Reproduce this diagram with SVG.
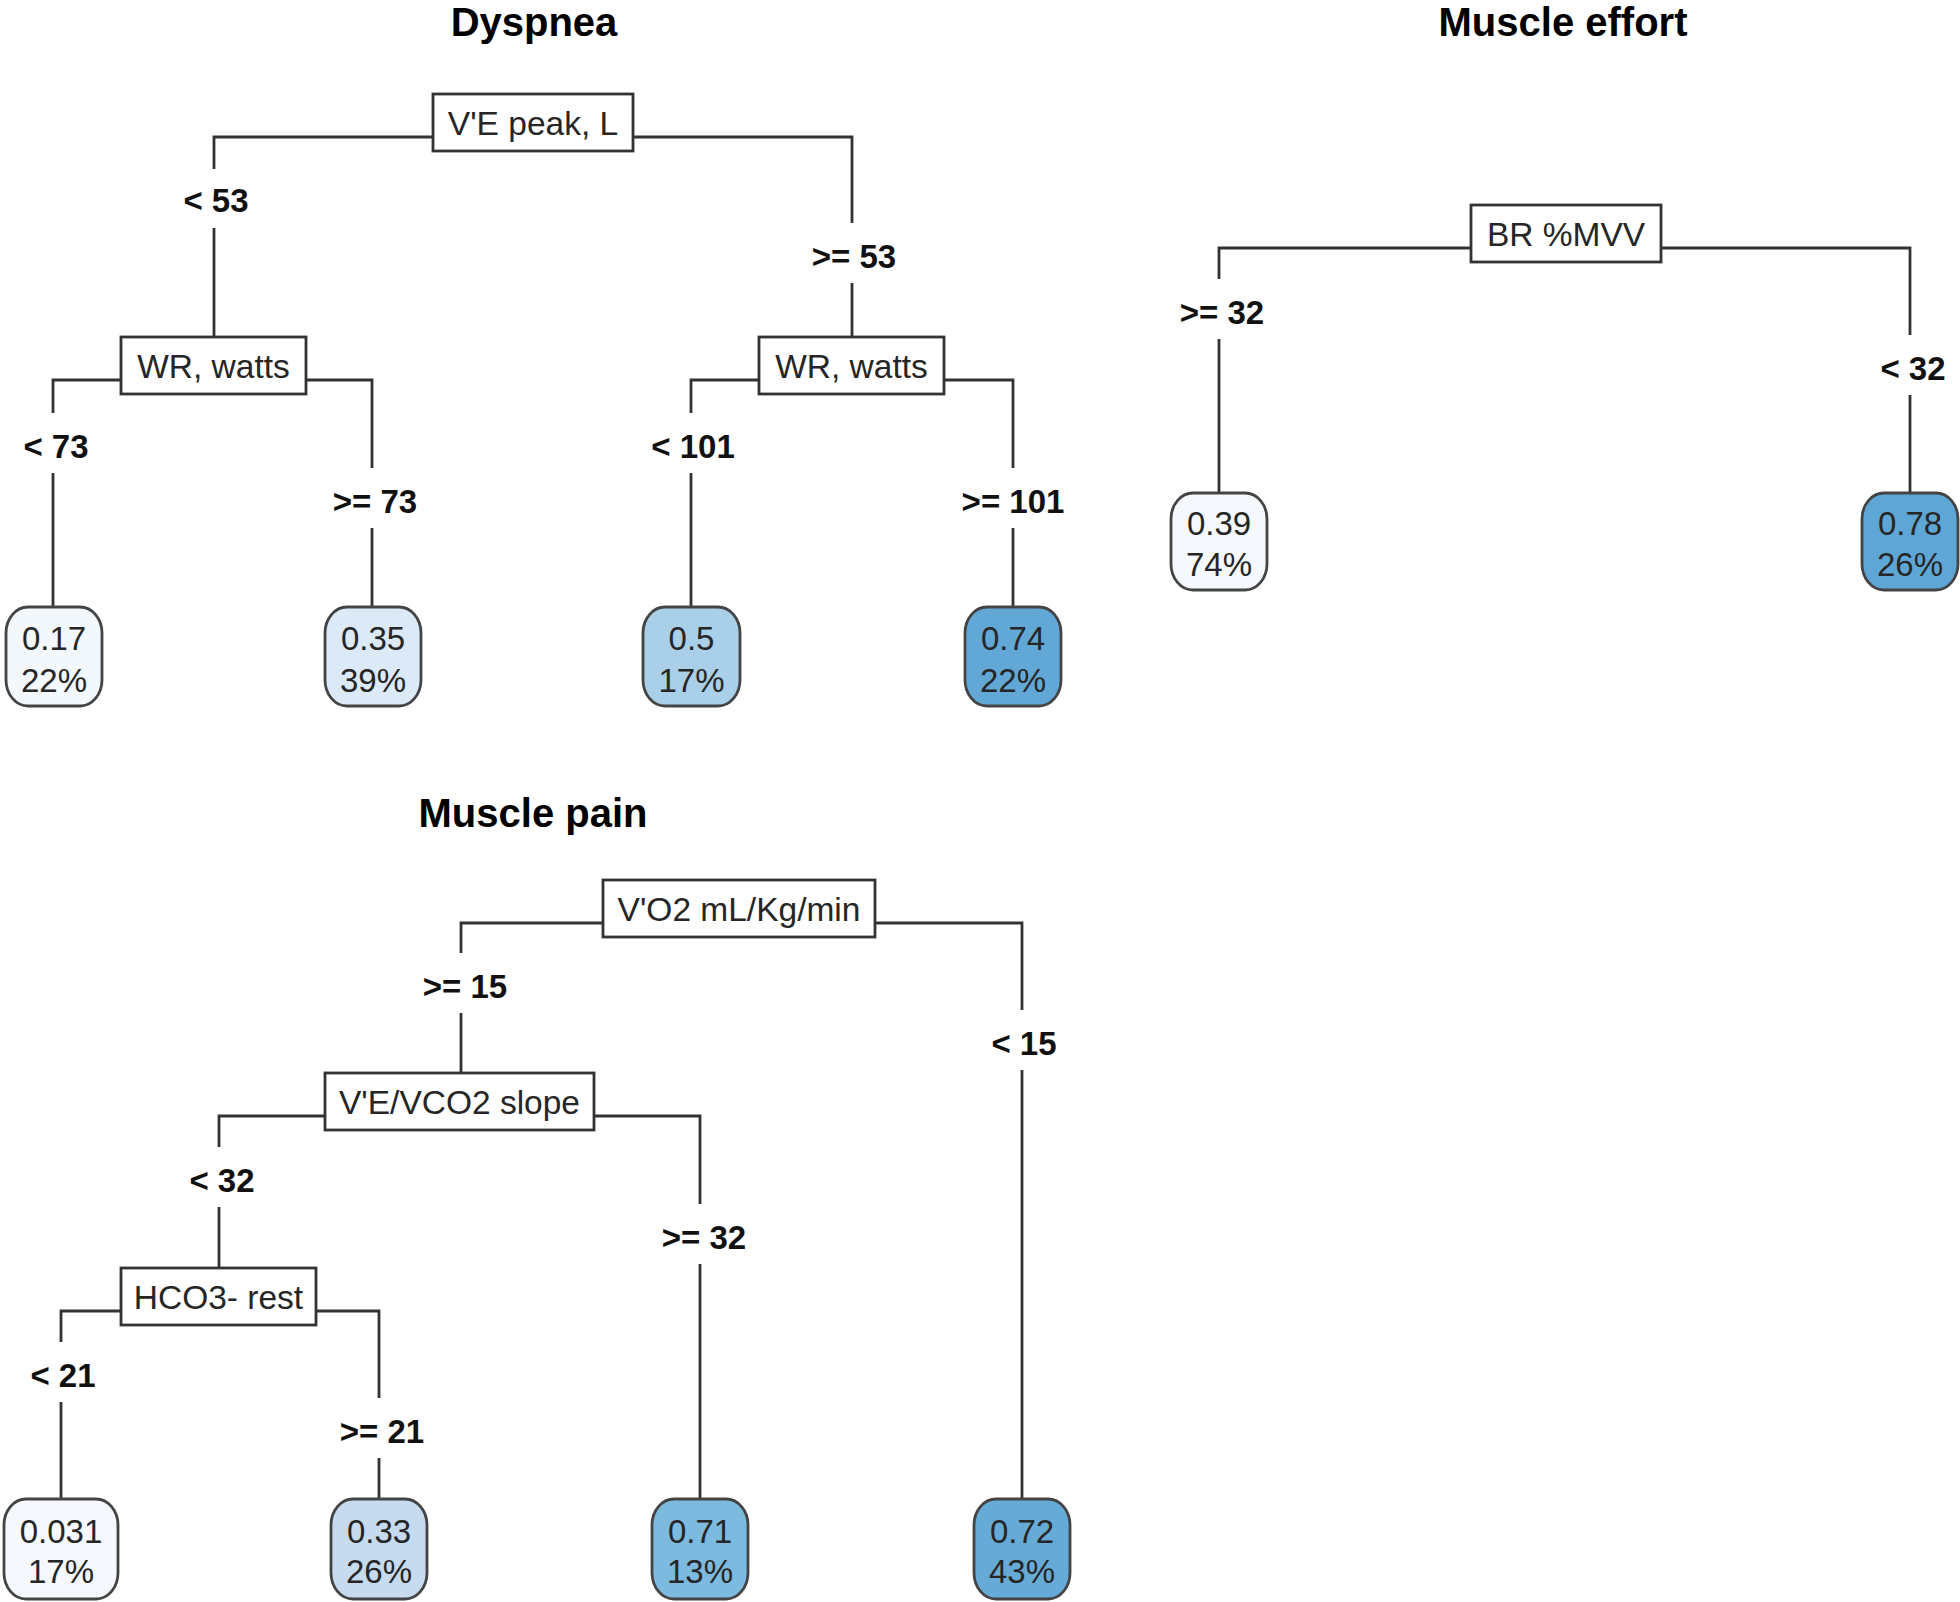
<svg xmlns="http://www.w3.org/2000/svg" width="1960" height="1602" viewBox="0 0 1960 1602">
<style>
.title{font-family:"Liberation Sans",Arial,sans-serif;font-weight:bold;font-size:40px;fill:#000;text-anchor:middle}
.nt{font-family:"Liberation Sans",Arial,sans-serif;font-size:33.5px;fill:#262626;text-anchor:middle}
.lt{font-family:"Liberation Sans",Arial,sans-serif;font-size:33px;fill:#262626;text-anchor:middle}
.sl{font-family:"Liberation Sans",Arial,sans-serif;font-weight:bold;font-size:33px;fill:#111;text-anchor:middle}
.box{fill:#fff;stroke:#333;stroke-width:2.8}
.leaf{stroke:#444;stroke-width:2.8}
.edges path{fill:none;stroke:#333;stroke-width:2.8}
</style>
<rect width="1960" height="1602" fill="#fff"/>

<text class="title" x="534" y="36">Dyspnea</text>
<text class="title" x="1563" y="36">Muscle effort</text>
<text class="title" x="533" y="827">Muscle pain</text>

<g class="edges" id="connectors">
<!-- Dyspnea -->
<path d="M433 137 H214 V169 M214 228 V337"/>
<path d="M633 137 H852 V223 M852 283 V337"/>
<path d="M121 380 H53 V413 M53 473 V607"/>
<path d="M306 380 H372 V468 M372 528 V607"/>
<path d="M759 380 H691 V413 M691 473 V607"/>
<path d="M944 380 H1013 V468 M1013 528 V607"/>
<!-- Muscle effort -->
<path d="M1471 248 H1219 V279 M1219 339 V493"/>
<path d="M1661 248 H1910 V335 M1910 395 V493"/>
<!-- Muscle pain -->
<path d="M603 923 H461 V953 M461 1013 V1073"/>
<path d="M875 923 H1022 V1010 M1022 1070 V1499"/>
<path d="M325 1116 H219 V1147 M219 1207 V1268"/>
<path d="M594 1116 H700 V1204 M700 1264 V1499"/>
<path d="M121 1311 H61 V1342 M61 1402 V1499"/>
<path d="M316 1311 H379 V1398 M379 1458 V1499"/>
</g>

<g id="edge-labels">
<text class="sl" x="216" y="212">&lt; 53</text>
<text class="sl" x="854" y="268">&gt;= 53</text>
<text class="sl" x="56" y="458">&lt; 73</text>
<text class="sl" x="375" y="513">&gt;= 73</text>
<text class="sl" x="693" y="458">&lt; 101</text>
<text class="sl" x="1013" y="513">&gt;= 101</text>
<text class="sl" x="1222" y="324">&gt;= 32</text>
<text class="sl" x="1913" y="380">&lt; 32</text>
<text class="sl" x="465" y="998">&gt;= 15</text>
<text class="sl" x="1024" y="1055">&lt; 15</text>
<text class="sl" x="222" y="1192">&lt; 32</text>
<text class="sl" x="704" y="1249">&gt;= 32</text>
<text class="sl" x="63" y="1387">&lt; 21</text>
<text class="sl" x="382" y="1443">&gt;= 21</text>
</g>

<!-- Dyspnea nodes -->
<g id="d-root"><rect class="box" x="433" y="94" width="200" height="57"/><text class="nt" x="533" y="135">V'E peak, L</text></g>
<g id="d-wr1"><rect class="box" x="121" y="337" width="185" height="57"/><text class="nt" x="213.5" y="378">WR, watts</text></g>
<g id="d-wr2"><rect class="box" x="759" y="337" width="185" height="57"/><text class="nt" x="851.5" y="378">WR, watts</text></g>
<g id="d-leaf1"><rect class="leaf" x="6" y="607" width="96" height="99" rx="22" ry="26" fill="#F3F8FD"/><text class="lt" x="54" y="650">0.17</text><text class="lt" x="54" y="692">22%</text></g>
<g id="d-leaf2"><rect class="leaf" x="325" y="607" width="96" height="99" rx="22" ry="26" fill="#DCE9F6"/><text class="lt" x="373" y="650">0.35</text><text class="lt" x="373" y="692">39%</text></g>
<g id="d-leaf3"><rect class="leaf" x="643" y="607" width="97" height="99" rx="22" ry="26" fill="#AACFE8"/><text class="lt" x="691.5" y="650">0.5</text><text class="lt" x="691.5" y="692">17%</text></g>
<g id="d-leaf4"><rect class="leaf" x="965" y="607" width="96" height="99" rx="22" ry="26" fill="#62A8D6"/><text class="lt" x="1013" y="650">0.74</text><text class="lt" x="1013" y="692">22%</text></g>

<!-- Muscle effort nodes -->
<g id="e-root"><rect class="box" x="1471" y="205" width="190" height="57"/><text class="nt" x="1566" y="246">BR %MVV</text></g>
<g id="e-leaf1"><rect class="leaf" x="1171" y="493" width="96" height="97" rx="22" ry="26" fill="#F5F9FE"/><text class="lt" x="1219" y="535">0.39</text><text class="lt" x="1219" y="576">74%</text></g>
<g id="e-leaf2"><rect class="leaf" x="1862" y="493" width="96" height="97" rx="22" ry="26" fill="#5EA6D6"/><text class="lt" x="1910" y="535">0.78</text><text class="lt" x="1910" y="576">26%</text></g>

<!-- Muscle pain nodes -->
<g id="p-root"><rect class="box" x="603" y="880" width="272" height="57"/><text class="nt" x="739" y="921">V'O2 mL/Kg/min</text></g>
<g id="p-slope"><rect class="box" x="325" y="1073" width="269" height="57"/><text class="nt" x="459.5" y="1114">V'E/VCO2 slope</text></g>
<g id="p-hco3"><rect class="box" x="121" y="1268" width="195" height="57"/><text class="nt" x="218.5" y="1309">HCO3- rest</text></g>
<g id="p-leaf1"><rect class="leaf" x="4" y="1499" width="114" height="100" rx="22" ry="26" fill="#F5F9FE"/><text class="lt" x="61" y="1543">0.031</text><text class="lt" x="61" y="1583">17%</text></g>
<g id="p-leaf2"><rect class="leaf" x="331" y="1499" width="96" height="100" rx="22" ry="26" fill="#C6DBEF"/><text class="lt" x="379" y="1543">0.33</text><text class="lt" x="379" y="1583">26%</text></g>
<g id="p-leaf3"><rect class="leaf" x="652" y="1499" width="96" height="100" rx="22" ry="26" fill="#7DBAE0"/><text class="lt" x="700" y="1543">0.71</text><text class="lt" x="700" y="1583">13%</text></g>
<g id="p-leaf4"><rect class="leaf" x="974" y="1499" width="96" height="100" rx="22" ry="26" fill="#66ABD8"/><text class="lt" x="1022" y="1543">0.72</text><text class="lt" x="1022" y="1583">43%</text></g>
</svg>
